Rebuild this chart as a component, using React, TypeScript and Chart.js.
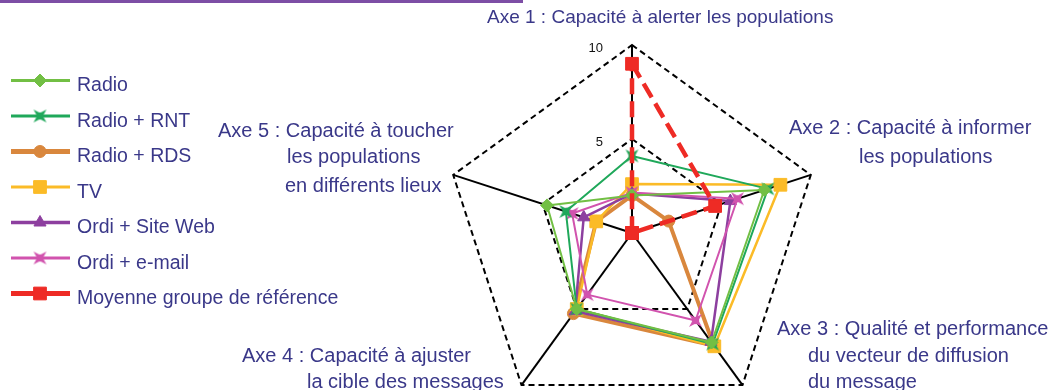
import React, { useEffect, useRef } from 'react';
import { Chart, registerables } from 'chart.js';
import { drawPoint } from 'chart.js/helpers';

Chart.register(...registerables);

// ---------------- data ----------------
const axisKeys = ['Axe 1', 'Axe 2', 'Axe 3', 'Axe 4', 'Axe 5'];
const axisTitles: string[][] = [
  ['Axe 1 : Capacité à alerter les populations'],
  ['Axe 2 : Capacité à informer', 'les populations'],
  ['Axe 3 : Qualité et performance', 'du vecteur de diffusion', 'du message'],
  ['Axe 4 : Capacité à ajuster', 'la cible des messages'],
  ['Axe 5 : Capacité à toucher', 'les populations', 'en différents lieux'],
];
const seriesLabels = [
  'Radio',
  'Radio + RNT',
  'Radio + RDS',
  'TV',
  'Ordi + Site Web',
  'Ordi + e-mail',
  'Moyenne groupe de référence',
];
const radioValues = [2.0, 7.4, 7.2, 5.0, 4.75];
const radioRntValues = [4.1, 7.6, 7.3, 5.0, 3.7];
const radioRdsValues = [2.0, 2.05, 7.4, 5.3, 2.0];
const tvValues = [2.6, 8.3, 7.45, 5.0, 2.0];
const siteWebValues = [2.1, 5.5, 7.15, 5.15, 2.7];
const emailValues = [2.15, 5.9, 5.75, 4.05, 3.35];
const referenceValues = [9.0, 4.65, 0, 0, 0];
const tickValues = [5, 10];

const seriesValues = [radioValues, radioRntValues, radioRdsValues, tvValues, siteWebValues, emailValues, referenceValues];

// ---------------- styles / layout ----------------
const textColor = '#3a3889';
const fontFamily = '"Liberation Sans", Arial, sans-serif';

type SeriesStyle = {
  color: string;
  pointStyle: string;
  radius: number;
  pointBorder: number;
  lineWidth: number;
  legendLine: number;
  dash?: number[];
  order: number;
};

const seriesStyles: SeriesStyle[] = [
  { color: '#72bf44', pointStyle: 'rectRot', radius: 6.5, pointBorder: 1, lineWidth: 2, legendLine: 3, order: 2 },
  { color: '#1fa85a', pointStyle: 'notched', radius: 6.5, pointBorder: 1, lineWidth: 2, legendLine: 3, order: 3 },
  { color: '#d9873d', pointStyle: 'circle', radius: 6, pointBorder: 1, lineWidth: 4, legendLine: 5, order: 7 },
  { color: '#fbbb27', pointStyle: 'rect', radius: 9, pointBorder: 1, lineWidth: 2.5, legendLine: 3, order: 6 },
  { color: '#8d3f9f', pointStyle: 'triangle', radius: 7, pointBorder: 1, lineWidth: 2.5, legendLine: 3.5, order: 5 },
  { color: '#d153ae', pointStyle: 'notched', radius: 6.5, pointBorder: 1, lineWidth: 2, legendLine: 3, order: 4 },
  { color: '#ee2b25', pointStyle: 'rect', radius: 9, pointBorder: 1, lineWidth: 4.5, legendLine: 5, dash: [16, 7], order: 1 },
];

// left x / baseline y of each line of each axis title
const axisTitlePos: number[][][] = [
  [[487, 23]],
  [[789, 134], [859, 163]],
  [[777, 335], [808, 362], [808, 388]],
  [[242, 362], [307, 388]],
  [[218, 137], [287, 163], [285, 192]],
];
const axisTitleFont = [19, 20, 20, 20, 20];

const legendLineX0 = 11;
const legendLineX1 = 70;
const legendMarkerX = 40;
const legendTextX = 77;
const legendFirstBaseline = 91;
const legendStep = 35.5;

// square marker with notched sides (4-point star pointing to the corners)
function makeNotchedMarker(color: string, r: number): HTMLCanvasElement {
  const size = Math.ceil(r * 2 + 2);
  const c = document.createElement('canvas');
  c.width = size;
  c.height = size;
  const g = c.getContext('2d')!;
  const m = size / 2;
  const n = r * 0.45;
  g.fillStyle = color;
  g.beginPath();
  g.moveTo(m - r, m - r);
  g.lineTo(m, m - n);
  g.lineTo(m + r, m - r);
  g.lineTo(m + n, m);
  g.lineTo(m + r, m + r);
  g.lineTo(m, m + n);
  g.lineTo(m - r, m + r);
  g.lineTo(m - n, m);
  g.closePath();
  g.fill();
  g.fillRect(m - r * 0.55, m - r * 0.55, r * 1.1, r * 1.1);
  return c;
}

function resolveStyle(st: SeriesStyle): any {
  if (st.pointStyle === 'notched') return makeNotchedMarker(st.color, st.radius);
  return st.pointStyle;
}

export default function App() {
  const canvasRef = useRef<HTMLCanvasElement | null>(null);

  useEffect(() => {
    if (!canvasRef.current) return;
    const resolved = seriesStyles.map(resolveStyle);

    const overlayPlugin = {
      id: 'overlay',
      afterDraw(chart: any) {
        const ctx: CanvasRenderingContext2D = chart.ctx;
        const scale = chart.scales.r;
        ctx.save();

        // top rule
        ctx.fillStyle = '#7d4ea5';
        ctx.fillRect(0, 0, 523, 3);

        // tick labels
        ctx.font = `13px ${fontFamily}`;
        ctx.fillStyle = '#111';
        ctx.textAlign = 'right';
        ctx.textBaseline = 'middle';
        tickValues.forEach((v) => {
          const p = scale.getPointPositionForValue(0, v);
          ctx.fillText(String(v), p.x - 29, p.y + 3);
        });

        // axis titles
        ctx.textAlign = 'left';
        ctx.textBaseline = 'alphabetic';
        ctx.fillStyle = textColor;
        axisTitles.forEach((lines, i) => {
          ctx.font = `${axisTitleFont[i]}px ${fontFamily}`;
          lines.forEach((t, j) => {
            const [x, y] = axisTitlePos[i][j];
            ctx.fillText(t, x, y);
          });
        });

        // legend
        seriesLabels.forEach((name, i) => {
          const st = seriesStyles[i];
          const base = legendFirstBaseline + i * legendStep;
          const ly = base - 10.5;
          ctx.setLineDash([]);
          ctx.strokeStyle = st.color;
          ctx.lineWidth = st.legendLine;
          ctx.beginPath();
          ctx.moveTo(legendLineX0, ly);
          ctx.lineTo(legendLineX1, ly);
          ctx.stroke();
          ctx.fillStyle = st.color;
          ctx.strokeStyle = st.color;
          ctx.lineWidth = st.pointBorder;
          drawPoint(
            ctx,
            { pointStyle: resolved[i], radius: st.radius, rotation: 0, borderWidth: st.pointBorder } as any,
            legendMarkerX,
            ly
          );
          ctx.fillStyle = textColor;
          ctx.font = `19.5px ${fontFamily}`;
          ctx.fillText(name, legendTextX, base);
        });

        ctx.restore();
      },
    };

    const datasets = seriesLabels.map((label, i) => {
      const st = seriesStyles[i];
      return {
        label,
        data: seriesValues[i],
        borderColor: st.color,
        backgroundColor: 'transparent',
        fill: false,
        borderWidth: st.lineWidth,
        borderDash: st.dash || [],
        borderJoinStyle: 'round' as const,
        pointStyle: resolved[i],
        pointRadius: st.radius,
        pointBackgroundColor: st.color,
        pointBorderColor: st.color,
        pointBorderWidth: st.pointBorder,
        order: st.order,
        tension: 0,
      };
    });
    const chart = new Chart(canvasRef.current, {
      type: 'radar',
      data: { labels: axisKeys, datasets },
      options: {
        responsive: false,
        animation: false,
        devicePixelRatio: 1,
        layout: { padding: { left: 444, right: 230, top: 45, bottom: 19 } },
        plugins: {
          legend: { display: false },
          tooltip: { enabled: false },
        },
        scales: {
          r: {
            min: 0,
            max: 10,
            ticks: { stepSize: 5, display: false },
            pointLabels: { display: false },
            grid: { color: '#000', lineWidth: 2 },
            border: { dash: [6, 4] },
            angleLines: { color: '#000', lineWidth: 2 },
          },
        },
      } as any,
      plugins: [overlayPlugin],
    });
    return () => chart.destroy();
  }, []);

  return (
    <div
      style={{
        position: 'fixed',
        left: 0,
        top: 0,
        width: 1050,
        height: 390,
        overflow: 'hidden',
        background: '#fff',
      }}
    >
      <canvas ref={canvasRef} width={1050} height={440} style={{ display: 'block' }} />
    </div>
  );
}
